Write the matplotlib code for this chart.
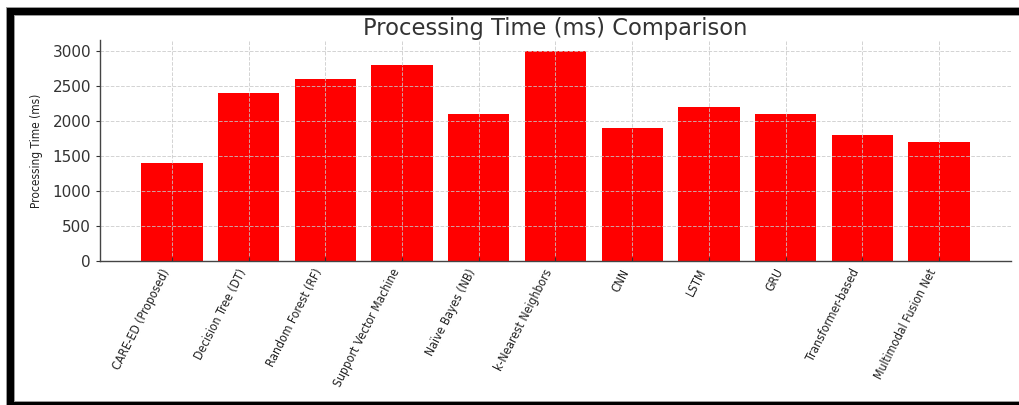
import matplotlib
matplotlib.use("Agg")
import matplotlib.pyplot as plt
from matplotlib import font_manager
from matplotlib.font_manager import FontProperties
from matplotlib.patches import Rectangle

models = [
    "CARE-ED (Proposed)", "Decision Tree (DT)", "Random Forest (RF)",
    "Support Vector Machine", "Naïve Bayes (NB)", "k-Nearest Neighbors",
    "CNN", "LSTM", "GRU", "Transformer-based", "Multimodal Fusion Net",
]
processing_ms = [1400, 2400, 2600, 2800, 2100, 3000, 1900, 2200, 2100, 1800, 1700]
y_ticks = [0, 500, 1000, 1500, 2000, 2500, 3000]


def narrow_font_file():
    """Pick the narrowest regular-weight sans face that is installed."""
    skip = ("bold", "italic", "semi", "light", "medium", "black", "thin",
            "oblique", "mono", "serif")
    regular = [f for f in font_manager.fontManager.ttflist
               if not any(s in f.fname.lower() for s in skip)]
    for key in ("extracondensed", "condensed", "narrow"):
        for fam in ("Open Sans", "Noto Sans", "DejaVu Sans", "Roboto",
                    "Liberation Sans"):
            for f in regular:
                fn = f.fname.lower().replace("-", "").replace("_", "")
                if key in fn and f.name.startswith(fam):
                    if key == "condensed" and "extracondensed" in fn:
                        continue
                    return f.fname
    return None


nf = narrow_font_file()


def make_fp(size):
    if nf:
        return FontProperties(fname=nf, size=size)
    return FontProperties(family="DejaVu Sans", size=size)


fig = plt.figure(figsize=(10.2, 4.05), dpi=100)
renderer = fig.canvas.get_renderer()


def fit_size(text, target_px, start=10.5):
    """Font size at which `text` is about target_px long."""
    t = fig.text(0, 0, text, fontproperties=make_fp(start))
    length = t.get_window_extent(renderer).width
    t.remove()
    return start * target_px / length


tick_fp = make_fp(fit_size("CARE-ED (Proposed)", 112))
lab_fp = make_fp(fit_size("Processing Time (ms)", 115))

ax = fig.add_axes([100 / 1020, 144 / 405, 911 / 1020, 221 / 405])

x = list(range(len(models)))
ax.bar(x, processing_ms, width=0.8, color="#ff0000")

ax.set_yticks(y_ticks)
ax.set_xticks(x)
ax.set_xticklabels(models, rotation=63, ha="right", fontproperties=tick_fp,
                   color="#222222")
ax.tick_params(axis="x", direction="in", length=3, color="#333333", pad=4)
ax.tick_params(axis="y", direction="out", length=3, labelsize=11,
               labelcolor="#333333", color="#333333")

ax.set_ylabel("Processing Time (ms)", fontproperties=lab_fp,
              color="#222222", labelpad=7)
ax.set_title("Processing Time (ms) Comparison", fontsize=16.3,
             color="#333333", pad=3)

ax.grid(True, linestyle="--", color="#c8c8c8", linewidth=0.7, alpha=0.8)
for side in ("top", "right"):
    ax.spines[side].set_visible(False)
for side in ("left", "bottom"):
    ax.spines[side].set_color("#444444")
    ax.spines[side].set_linewidth(1.0)

# Black picture frame around the figure
w, h = 1020, 405
x0, y0 = 10.5 / w, 0.5 / h
fw, fh = 1030 / w, (405 - 10.5 - 0.5) / h
gray = Rectangle((x0, y0), fw, fh, transform=fig.transFigure, fill=False,
                 edgecolor="#9a9a9a", linewidth=9 * 72 / 100, zorder=10)
frame = Rectangle((x0, y0), fw, fh, transform=fig.transFigure, fill=False,
                  edgecolor="black", linewidth=7 * 72 / 100, zorder=11)
fig.add_artist(gray)
fig.add_artist(frame)

fig.savefig("out.png", dpi=100)
